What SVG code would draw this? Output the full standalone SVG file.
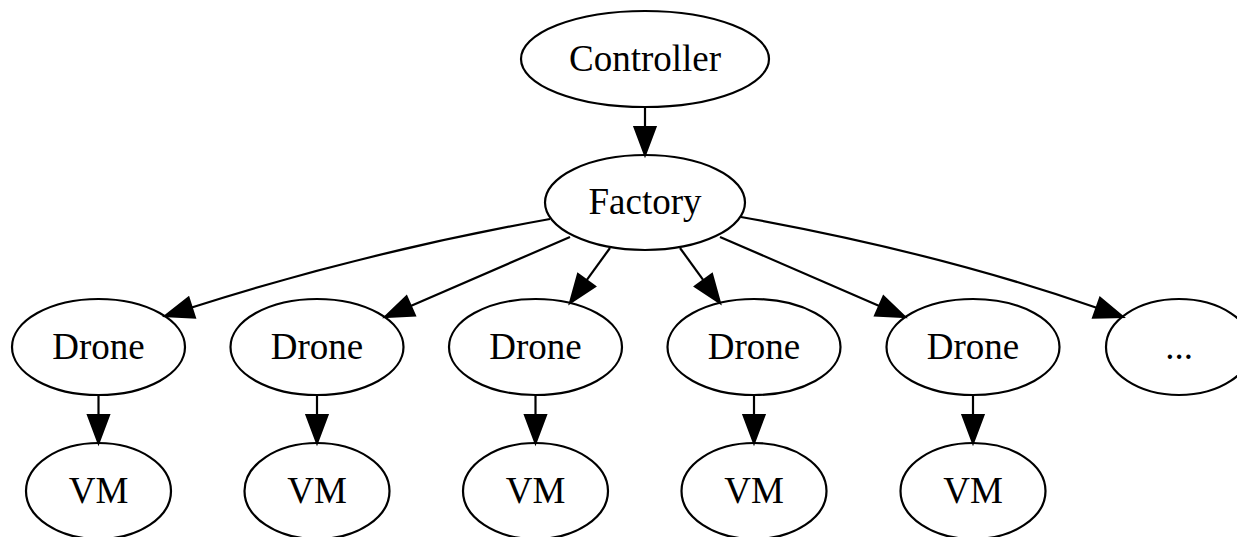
<svg xmlns="http://www.w3.org/2000/svg" width="1237" height="537" viewBox="0 0 1237 537">
<style>
.n ellipse{fill:none;stroke:#000;stroke-width:2.2}
.n text{font-family:"Liberation Serif","Times New Roman",serif;font-size:37px;text-anchor:middle;fill:#000}
.e path{fill:none;stroke:#000;stroke-width:2.2}
.e polygon{fill:#000;stroke:#000;stroke-width:2.2}
</style>
<rect width="1237" height="537" fill="#fff"/>
<g id="connectors" class="e">
<path d="M645,107 L645,127"/><polygon points="634.5,127 655.5,127 645,155"/>
<path d="M550,219 C430,240.6 311.7,269.1 191.7,307.5"/><polygon points="194.9,317.5 188.5,297.5 165,316"/>
<path d="M570,237 L410.7,305.9"/><polygon points="414.9,315.5 406.5,296.3 385,317"/>
<path d="M610,248 L586.5,280.3"/><polygon points="595,286.5 578,274.1 570,303"/>
<path d="M680,248 L703.5,280.3"/><polygon points="695,286.5 712,274.1 720,303"/>
<path d="M720,237 L879.3,305.9"/><polygon points="875.1,315.5 883.5,296.3 905,317"/>
<path d="M741,217 C861,238.6 976.6,265.8 1096.6,307.8"/><polygon points="1093.1,317.7 1100.1,297.9 1123,317"/>
<path d="M98.5,395 L98.5,415"/><polygon points="88,415 109,415 98.5,443"/>
<path d="M317,395 L317,415"/><polygon points="306.5,415 327.5,415 317,443"/>
<path d="M535.5,395 L535.5,415"/><polygon points="525,415 546,415 535.5,443"/>
<path d="M754,395 L754,415"/><polygon points="743.5,415 764.5,415 754,443"/>
<path d="M973,395 L973,415"/><polygon points="962.5,415 983.5,415 973,443"/>
</g>
<g id="controller" class="n"><ellipse cx="645" cy="59" rx="124" ry="48"/><text x="645" y="71">Controller</text></g>
<g id="factory" class="n"><ellipse cx="645" cy="202.5" rx="100" ry="47.5"/><text x="645" y="214">Factory</text></g>
<g id="drone1" class="n"><ellipse cx="98.5" cy="347" rx="86.5" ry="48"/><text x="98.5" y="359">Drone</text></g>
<g id="drone2" class="n"><ellipse cx="317" cy="347" rx="86.5" ry="48"/><text x="317" y="359">Drone</text></g>
<g id="drone3" class="n"><ellipse cx="535.5" cy="347" rx="86.5" ry="48"/><text x="535.5" y="359">Drone</text></g>
<g id="drone4" class="n"><ellipse cx="754" cy="347" rx="86.5" ry="48"/><text x="754" y="359">Drone</text></g>
<g id="drone5" class="n"><ellipse cx="973" cy="347" rx="86.5" ry="48"/><text x="973" y="359">Drone</text></g>
<g id="more" class="n"><ellipse cx="1179" cy="347" rx="73" ry="48"/><text x="1179" y="359">...</text></g>
<g id="vm1" class="n"><ellipse cx="98.5" cy="491" rx="72.5" ry="48"/><text x="98.5" y="503">VM</text></g>
<g id="vm2" class="n"><ellipse cx="317" cy="491" rx="72.5" ry="48"/><text x="317" y="503">VM</text></g>
<g id="vm3" class="n"><ellipse cx="535.5" cy="491" rx="72.5" ry="48"/><text x="535.5" y="503">VM</text></g>
<g id="vm4" class="n"><ellipse cx="754" cy="491" rx="72.5" ry="48"/><text x="754" y="503">VM</text></g>
<g id="vm5" class="n"><ellipse cx="973" cy="491" rx="72.5" ry="48"/><text x="973" y="503">VM</text></g>
</svg>
